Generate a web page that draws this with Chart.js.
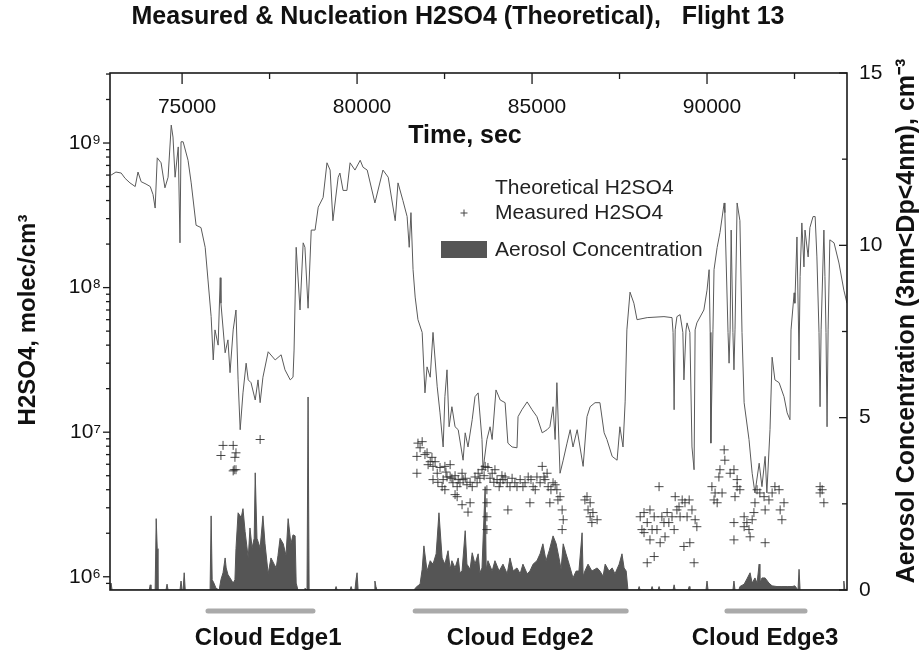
<!DOCTYPE html>
<html>
<head>
<meta charset="utf-8">
<script src="https://cdn.jsdelivr.net/npm/chart.js@4.4.1/dist/chart.umd.min.js"></script>
<style>
  html, body { margin: 0; padding: 0; background: #fff; }
  #wrap { width: 919px; height: 653px; }
</style>
</head>
<body>
<div id="wrap"><canvas id="c" width="919" height="653"></canvas></div>
<script>
// ---------------- DATA ----------------
const chartTitle = 'Measured & Nucleation H2SO4 (Theoretical),   Flight 13';
const xTitle = 'Time, sec';
const yTitle = 'H2SO4, molec/cm³';
const y2Title = 'Aerosol Concentration (3nm<Dp<4nm), cm⁻³';
const seriesNames = ['Theoretical H2SO4', 'Measured H2SO4', 'Aerosol Concentration'];

const xMajorTicks = [75000, 80000, 85000, 90000];
const xTickLabels = ['75000', '80000', '85000', '90000'];
const xMinorTicks = [77500, 82500, 87500, 92500];
const yMajorTicks = [1e6, 1e7, 1e8, 1e9];
const yTickLabels = ['10⁶', '10⁷', '10⁸', '10⁹'];
const y2MajorTicks = [0, 5, 10, 15];
const y2MinorTicks = [2.5, 7.5, 12.5];

const cloudEdgeLabels = ['Cloud Edge1', 'Cloud Edge2', 'Cloud Edge3'];
const cloudEdgeStart = [75740, 81660, 90570];
const cloudEdgeEnd = [78740, 87690, 92800];
const cloudLabelCenter = [77460, 84660, 91660];

// Theoretical H2SO4 (molec/cm3)
const theoTime = [72970,73110,73260,73370,73510,73660,73740,73830,73970,74090,
74170,74230,74290,74400,74510,74600,74690,74740,74800,74890,
74940,74970,75030,75170,75260,75400,75540,75660,75740,75830,
75890,75940,76030,76090,76110,76230,76310,76370,76460,76540,
76600,76660,76740,76830,76890,76970,77090,77170,77230,77310,
77460,77660,77830,77940,78090,78170,78200,78260,78370,78460,
78510,78600,78690,78800,78890,79030,79140,79230,79310,79460,
79510,79600,79710,79800,79940,80090,80170,80290,80510,80740,
80890,81090,81170,81310,81430,81490,81540,81600,81660,81740,
81860,81940,82000,82090,82170,82290,82370,82460,82510,82570,
82630,82710,82800,82890,83030,83090,83170,83290,83370,83460,
83570,83600,83710,83800,83860,83970,84090,84230,84310,84430,
84570,84600,84710,84860,85000,85140,85290,85430,85510,85600,
85660,85710,85800,85890,86000,86090,86170,86290,86370,86460,
86570,86660,86800,86940,87060,87140,87290,87430,87510,87600,
87660,87710,87800,87910,88000,88290,88770,89000,89030,89060,
89090,89140,89230,89310,89340,89400,89430,89510,89570,89630,
89660,89710,89910,90000,90060,90090,90110,90170,90200,90290,
90370,90490,90510,90600,90630,90660,90690,90740,90770,90800,
90860,90940,91000,91060,91200,91290,91370,91490,91570,91660,
91710,91800,91860,91940,92060,92200,92290,92370,92400,92490,
92510,92570,92630,92660,92710,92770,92800,92890,92940,93030,
93090,93140,93200,93230,93260,93340,93370,93400,93430,93460,
93510,93630,93770,93910,94000];
const theoValue = [6.0e8,6.3e8,6.2e8,5.7e8,5.3e8,5.0e8,6.3e8,5.4e8,5.2e8,5.0e8,
4.4e8,3.55e8,7.9e8,7.3e8,4.9e8,5.8e8,1.33e9,1.1e9,5.8e8,9.4e8,
2.04e8,1.02e9,1.02e9,7.6e8,5.3e8,2.7e8,2.6e8,1.9e8,1.13e8,6.3e7,
3.16e7,5.1e7,4.0e7,1.17e8,7.8e7,3.54e7,4.35e7,2.58e7,5.1e7,7.0e7,
2.3e7,1.04e7,1.87e7,3.0e7,2.3e7,2.2e7,1.67e7,2.3e7,1.6e7,2.4e7,
3.6e7,3.16e7,3.43e7,2.7e7,2.3e7,2.4e7,3.7e7,1.9e8,7.0e7,2.04e8,
1.9e8,7.2e7,2.5e8,2.5e8,3.6e8,4.2e8,7.3e8,6.5e8,2.9e8,5.8e8,
6.2e8,4.7e8,4.7e8,7.3e8,6.5e8,7.6e8,6.8e8,6.5e8,3.85e8,6.5e8,
5.8e8,2.9e8,5.3e8,4.0e8,3.1e8,1.9e8,3.3e8,1.33e8,8.6e7,6.0e7,
4.9e7,1.87e7,2.83e7,2.4e7,4.9e7,2.06e7,1.36e7,7.9e6,1.76e7,2.7e7,
1.09e7,1.5e7,1.09e7,1.04e7,6.4e6,9.9e6,7.9e6,1.22e7,1.76e7,1.87e7,
8.9e6,5.5e6,8.9e6,1.09e7,8.9e6,1.96e7,1.67e7,1.6e7,8.4e6,7.9e6,
7.8e6,1.28e7,1.43e7,1.62e7,1.43e7,1.28e7,9.9e6,1.04e7,1.09e7,1.5e7,
8.9e6,2.2e7,5.2e6,6.4e6,8.4e6,1.04e7,7.9e6,1.04e7,7.9e6,5.8e6,
1.28e7,1.5e7,1.6e7,1.6e7,9.9e6,8.9e6,6.8e6,6.4e6,1.09e7,7.9e6,
1.62e7,5.1e7,9.3e7,7.8e7,6.0e7,6.2e7,6.3e7,6.2e7,4.9e7,1.43e7,
5.1e7,6.3e7,6.5e7,4.9e7,2.3e7,5.1e7,5.7e7,4.9e7,7.9e6,5.5e6,
5.1e7,5.7e7,7.0e7,9.6e7,1.33e8,4.9e7,8.4e6,5.1e7,1.33e8,1.9e8,
2.4e8,3.85e8,3.3e8,4.9e7,3.0e7,5.1e7,2.5e8,4.9e7,2.7e7,5.1e7,
3.85e8,2.9e8,4.9e7,1.6e7,8.9e6,5.2e6,3.8e6,6.1e6,4.2e6,6.8e6,
3.8e6,1.04e7,3.3e7,2.3e7,2.2e7,1.76e7,1.36e7,1.22e7,5.1e7,9.2e7,
7.8e7,2.24e8,3.16e7,1.19e8,2.8e8,1.39e8,2.5e8,1.63e8,2.6e8,3.1e8,
3.1e8,1.63e8,4.9e7,1.5e7,5.1e7,2.5e8,1.19e8,4.9e7,1.09e7,5.1e7,
2.14e8,2.04e8,1.48e8,9.6e7,7.8e7];

// Measured H2SO4 (molec/cm3)
const measTime = [76110,76170,76460,76460,76510,76490,76540,76540,77230,
81740,81860,81710,81710,81940,82090,82170,82290,82370,82510,82660,82170,82310,82460,82570,82740,
82860,82940,83030,83140,83230,83370,83460,83570,83660,83740,83860,83230,82860,83710,83710,83710,
83710,84000,84090,84230,84370,84510,84660,84740,84890,85030,85140,85290,85370,85460,85600,85710,
85800,85860,85890,85860,84310,83170,82660,82430,84940,85510,83000,
81800,82000,82140,82030,82230,82540,82710,82800,82890,83090,83290,83430,83510,83630,83800,83910,
84060,84170,84290,84430,84570,84800,84970,85090,85230,85340,85430,85540,85660,85740,82800,83000,
82510,83940,84140,
86570,86660,86740,86600,86860,86710,86510,86660,
88090,88200,88290,88370,88490,88570,88630,88710,88800,88910,89000,89090,89200,89290,89370,89490,
89570,89660,89630,89510,88200,88290,88490,88660,89060,89340,88140,88430,88770,89140,89430,88370,
88860,89230,89710,
90140,90230,90200,90340,90370,90490,90510,90430,90290,90660,90770,90860,90940,90800,90770,90770,
91060,91140,91200,91230,91340,91370,91510,91630,91660,91660,91770,91860,91940,92060,92090,92140,
92200,91060,91290,90860,91430,
93230,93290,93340,93230];
const measValue = [6.9e6,8.1e6,8.1e6,5.4e6,6.7e6,5.5e6,7.2e6,5.5e6,8.9e6,
8.4e6,8.6e6,6.8e6,5.2e6,7.0e6,6.25e6,5.8e6,5.2e6,5.7e6,5.8e6,5.96e6,4.7e6,4.5e6,4.7e6,4.9e6,4.47e6,
4.2e6,4.47e6,4.7e6,4.33e6,4.5e6,4.9e6,5.2e6,5.5e6,5.8e6,5.7e6,5.2e6,3.25e6,3.58e6,4.0e6,3.25e6,2.6e6,
2.12e6,4.7e6,4.47e6,4.9e6,4.2e6,4.47e6,4.7e6,4.2e6,4.9e6,4.2e6,4.9e6,5.8e6,4.7e6,4.2e6,4.47e6,4.0e6,
3.58e6,2.9e6,2.48e6,2.12e6,2.9e6,2.8e6,4.9e6,4.2e6,3.25e6,3.25e6,5.2e6,
7.8e6,7.2e6,6.7e6,5.96e6,6.25e6,5.3e6,4.8e6,5.0e6,4.7e6,4.8e6,4.2e6,4.47e6,4.8e6,5.0e6,4.8e6,4.5e6,
4.2e6,4.7e6,4.47e6,4.8e6,4.2e6,4.47e6,4.7e6,4.0e6,4.47e6,4.9e6,5.2e6,4.0e6,4.33e6,3.4e6,3.7e6,3.15e6,
4.0e6,5.5e6,5.0e6,
3.58e6,3.25e6,2.78e6,2.9e6,2.48e6,2.37e6,3.4e6,2.6e6,
2.6e6,2.02e6,2.37e6,1.8e6,2.6e6,2.12e6,4.2e6,2.6e6,1.89e6,2.37e6,2.6e6,3.58e6,3.05e6,3.4e6,3.25e6,3.4e6,
2.9e6,2.48e6,1.25e6,1.72e6,2.78e6,1.25e6,1.38e6,1.72e6,2.12e6,1.62e6,2.12e6,2.12e6,2.37e6,2.9e6,2.6e6,2.9e6,
2.78e6,2.6e6,2.22e6,
4.2e6,3.8e6,3.4e6,4.9e6,5.5e6,7.55e6,6.4e6,3.8e6,3.25e6,5.2e6,5.5e6,4.7e6,4.0e6,3.58e6,2.37e6,1.8e6,
2.6e6,2.37e6,2.12e6,1.89e6,2.78e6,3.25e6,3.8e6,3.58e6,2.9e6,1.72e6,3.4e6,3.8e6,4.2e6,4.0e6,2.9e6,2.48e6,
3.25e6,2.22e6,2.48e6,4.2e6,4.0e6,
4.2e6,4.0e6,3.25e6,3.8e6];

// Aerosol concentration (3nm<Dp<4nm), cm-3
const aeroTime = [72940,72970,73000,74060,74090,74110,74230,74260,74290,74310,
74540,74570,74600,74940,74970,75000,75030,75060,75090,75800,
75830,75860,75910,75970,76060,76110,76170,76230,76260,76310,
76370,76460,76510,76540,76600,76690,76740,76800,76890,76940,
77000,77060,77090,77140,77230,77310,77370,77460,77540,77630,
77690,77740,77800,77890,77970,78030,78110,78170,78230,78260,
78310,78490,78510,78570,78600,78630,79370,79400,79430,79800,
79830,79860,79940,79970,80000,80030,80490,80510,80540,80570,
81630,81660,81710,81800,81860,81910,82000,82090,82170,82260,
82340,82430,82510,82600,82660,82710,82800,82890,82940,83000,
83090,83140,83230,83290,83370,83460,83510,83570,83660,83690,
83740,83860,83940,84060,84170,84290,84370,84460,84570,84660,
84740,84860,84940,85030,85140,85230,85310,85400,85490,85600,
85690,85770,85830,85890,85970,86060,86170,86260,86340,86430,
86460,86510,86600,86710,86860,86940,87030,87090,87200,87290,
87370,87490,87570,87630,87690,87740,88030,88060,88090,88400,
88430,88460,88600,88630,88660,89030,89060,89090,89460,89490,
89510,89970,90000,90030,90740,90770,90800,90910,90940,91060,
91140,91230,91290,91370,91430,91490,91510,91570,91660,91770,
91860,92000,92140,92290,92430,92510,92600,92630,92660,93890,
93910,93940];
const aeroValue = [0,0.2,0,0,0.15,0,0,2.07,1.2,0,
0,0.17,0,0,0.26,0,0,0.5,0,0,
2.15,0.3,0.2,0.05,0,0.3,0.5,0.93,0.64,0.45,
0.35,0.2,0.3,1.2,2.24,2.1,2.36,1.7,0.93,1.8,
1.22,1.5,3.4,1.5,1.22,2.15,1.34,0.47,0.93,0.75,
0.64,1.0,1.5,1.34,1.0,2.07,1.34,1.6,1.57,0.2,
0,0,0.05,0,5.6,0,0,0.1,0,0,
0.1,0,0,0.3,0.5,0,0,0.26,0.1,0,
0,0.05,0.1,0.17,0.6,1.28,0.55,0.85,0.75,1.05,
2.24,0.93,0.75,1.14,0.6,0.85,0.64,0.93,0.5,0.55,
1.72,0.75,0.6,1.08,0.75,1.05,0.5,0.64,3.0,0.6,
0.85,0.55,0.85,0.55,0.75,0.47,0.93,0.55,0.64,0.47,
0.75,0.47,0.55,0.75,0.85,1.05,1.34,0.85,1.14,1.57,
1.34,0.93,0.6,1.34,1.05,0.75,0.35,0.55,0.55,1.66,
0.4,0.55,0.75,0.55,0.64,0.55,0.4,0.75,0.55,0.64,
0.47,0.75,1.05,0.64,0.55,0,0,0.1,0,0,
0.1,0,0,0.1,0,0,0.15,0,0,0.1,
0,0,0.26,0,0,0.26,0,0,0.1,0.17,
0.32,0.5,0.2,0.35,0.2,0.75,0.2,0.35,0.35,0.2,
0.12,0.1,0.1,0.1,0.1,0.12,0,0.6,0,0,
0.26,0];

// ---------------- CHART ----------------
const FONT = '"Liberation Sans", Arial, Helvetica, sans-serif';
const toXY = (xs, ys) => xs.map((t, i) => ({ x: t, y: ys[i] }));

const decor = {
  id: 'decor',
  afterDraw(chart) {
    const { ctx, chartArea: a, scales } = chart;
    const sx = scales.x, sy = scales.y, sy2 = scales.y2;
    const seg = (x1, y1, x2, y2) => { ctx.beginPath(); ctx.moveTo(x1, y1); ctx.lineTo(x2, y2); ctx.stroke(); };
    ctx.save();
    // frame
    ctx.strokeStyle = '#1a1a1a';
    ctx.lineWidth = 1.6;
    ctx.strokeRect(a.left, a.top, a.right - a.left, a.bottom - a.top);
    ctx.lineWidth = 1.3;
    // top x ticks (inward)
    xMajorTicks.forEach(v => { const p = sx.getPixelForValue(v); seg(p, a.top, p, a.top + 11); });
    xMinorTicks.forEach(v => { const p = sx.getPixelForValue(v); seg(p, a.top, p, a.top + 6); });
    // left log ticks (outward)
    yMajorTicks.forEach(v => { const p = sy.getPixelForValue(v); seg(a.left - 7, p, a.left, p); });
    for (let e = 5; e <= 9; e++) {
      for (let m = 2; m <= 9; m++) {
        const v = m * Math.pow(10, e);
        if (v < sy.min || v > sy.max) continue;
        const p = sy.getPixelForValue(v);
        seg(a.left - 4, p, a.left, p);
      }
    }
    // right ticks (inward)
    y2MajorTicks.forEach(v => { const p = sy2.getPixelForValue(v); seg(a.right - 8, p, a.right, p); });
    y2MinorTicks.forEach(v => { const p = sy2.getPixelForValue(v); seg(a.right - 5, p, a.right, p); });

    // x tick labels inside plot
    ctx.fillStyle = '#111';
    ctx.font = '21px ' + FONT;
    ctx.textAlign = 'center';
    ctx.textBaseline = 'alphabetic';
    xMajorTicks.forEach((v, i) => ctx.fillText(xTickLabels[i], sx.getPixelForValue(v) + 5, a.top + 40));
    // x title
    ctx.font = 'bold 25px ' + FONT;
    ctx.fillText(xTitle, a.left + 355, a.top + 70);
    // main title
    ctx.font = 'bold 25px ' + FONT;
    ctx.fillText(chartTitle, 458, 24);

    // left title (reads bottom to top)
    ctx.save();
    ctx.translate(35, 320);
    ctx.rotate(-Math.PI / 2);
    ctx.font = 'bold 24px ' + FONT;
    ctx.fillText(yTitle, 0, 0);
    ctx.restore();
    // right title (reads bottom to top)
    ctx.save();
    ctx.translate(914, 321);
    ctx.rotate(-Math.PI / 2);
    ctx.font = 'bold 25px ' + FONT;
    ctx.fillText(y2Title, 0, 0);
    ctx.restore();

    // legend
    const lx = a.left + 385;
    ctx.font = '21px ' + FONT;
    ctx.textAlign = 'left';
    ctx.textBaseline = 'middle';
    ctx.fillStyle = '#222';
    ctx.fillText(seriesNames[0], lx, a.top + 115);
    ctx.fillText(seriesNames[1], lx, a.top + 140);
    ctx.fillText(seriesNames[2], lx, a.top + 177);
    ctx.strokeStyle = '#444';
    ctx.lineWidth = 1;
    const px = lx - 31, py = a.top + 140;
    seg(px - 3.5, py, px + 3.5, py);
    seg(px, py - 3.5, px, py + 3.5);
    ctx.fillStyle = '#555';
    ctx.fillRect(lx - 54, a.top + 168, 46, 17);

    // cloud edges
    ctx.strokeStyle = '#aaaaaa';
    ctx.lineWidth = 5;
    ctx.lineCap = 'round';
    cloudEdgeStart.forEach((s, i) => {
      seg(sx.getPixelForValue(s), a.bottom + 21, sx.getPixelForValue(cloudEdgeEnd[i]), a.bottom + 21);
    });
    ctx.fillStyle = '#111';
    ctx.font = 'bold 24px ' + FONT;
    ctx.textAlign = 'center';
    ctx.textBaseline = 'alphabetic';
    cloudEdgeLabels.forEach((t, i) => ctx.fillText(t, sx.getPixelForValue(cloudLabelCenter[i]), a.bottom + 55));
    ctx.restore();
  }
};

new Chart(document.getElementById('c'), {
  type: 'line',
  data: {
    datasets: [
      {
        label: seriesNames[1],
        type: 'scatter',
        data: toXY(measTime, measValue),
        yAxisID: 'y',
        showLine: false,
        pointStyle: 'cross',
        pointRadius: 4.5,
        borderColor: 'rgba(40,40,40,0.85)',
        backgroundColor: 'rgba(40,40,40,0.85)',
        borderWidth: 1,
        order: 1
      },
      {
        label: seriesNames[0],
        data: toXY(theoTime, theoValue),
        yAxisID: 'y',
        borderColor: '#5a5a5a',
        borderWidth: 1,
        pointRadius: 0,
        tension: 0,
        fill: false,
        order: 2
      },
      {
        label: seriesNames[2],
        data: toXY(aeroTime, aeroValue),
        yAxisID: 'y2',
        borderColor: '#555',
        backgroundColor: '#555',
        borderWidth: 1,
        pointRadius: 0,
        tension: 0,
        fill: 'origin',
        order: 3
      }
    ]
  },
  options: {
    responsive: false,
    animation: false,
    devicePixelRatio: 1,
    layout: { padding: { top: 0, bottom: 63, left: 0, right: 0 } },
    plugins: { legend: { display: false }, title: { display: false }, tooltip: { enabled: false } },
    scales: {
      x: {
        type: 'linear', position: 'top', min: 72940, max: 94000,
        grid: { display: false },
        border: { display: false },
        ticks: { display: false },
        afterFit: s => { s.height = 73; }
      },
      y: {
        type: 'logarithmic', position: 'left', min: 8.1e5, max: 3.05e9,
        grid: { display: false, drawTicks: false },
        border: { display: false },
        afterBuildTicks: s => { s.ticks = yMajorTicks.map(v => ({ value: v, major: true })); },
        ticks: {
          padding: 9,
          color: '#111',
          font: { family: FONT, size: 21 },
          callback: (v) => { const i = yMajorTicks.indexOf(v); return i >= 0 ? yTickLabels[i] : ''; }
        },
        afterFit: s => { s.width = 110; }
      },
      y2: {
        type: 'linear', position: 'right', min: 0, max: 15,
        grid: { display: false, drawTicks: false },
        border: { display: false },
        afterBuildTicks: s => { s.ticks = y2MajorTicks.map(v => ({ value: v })); },
        ticks: {
          padding: 12,
          color: '#111',
          font: { family: FONT, size: 21 }
        },
        afterFit: s => { s.width = 72; }
      }
    }
  },
  plugins: [decor]
});
</script>
</body>
</html>
